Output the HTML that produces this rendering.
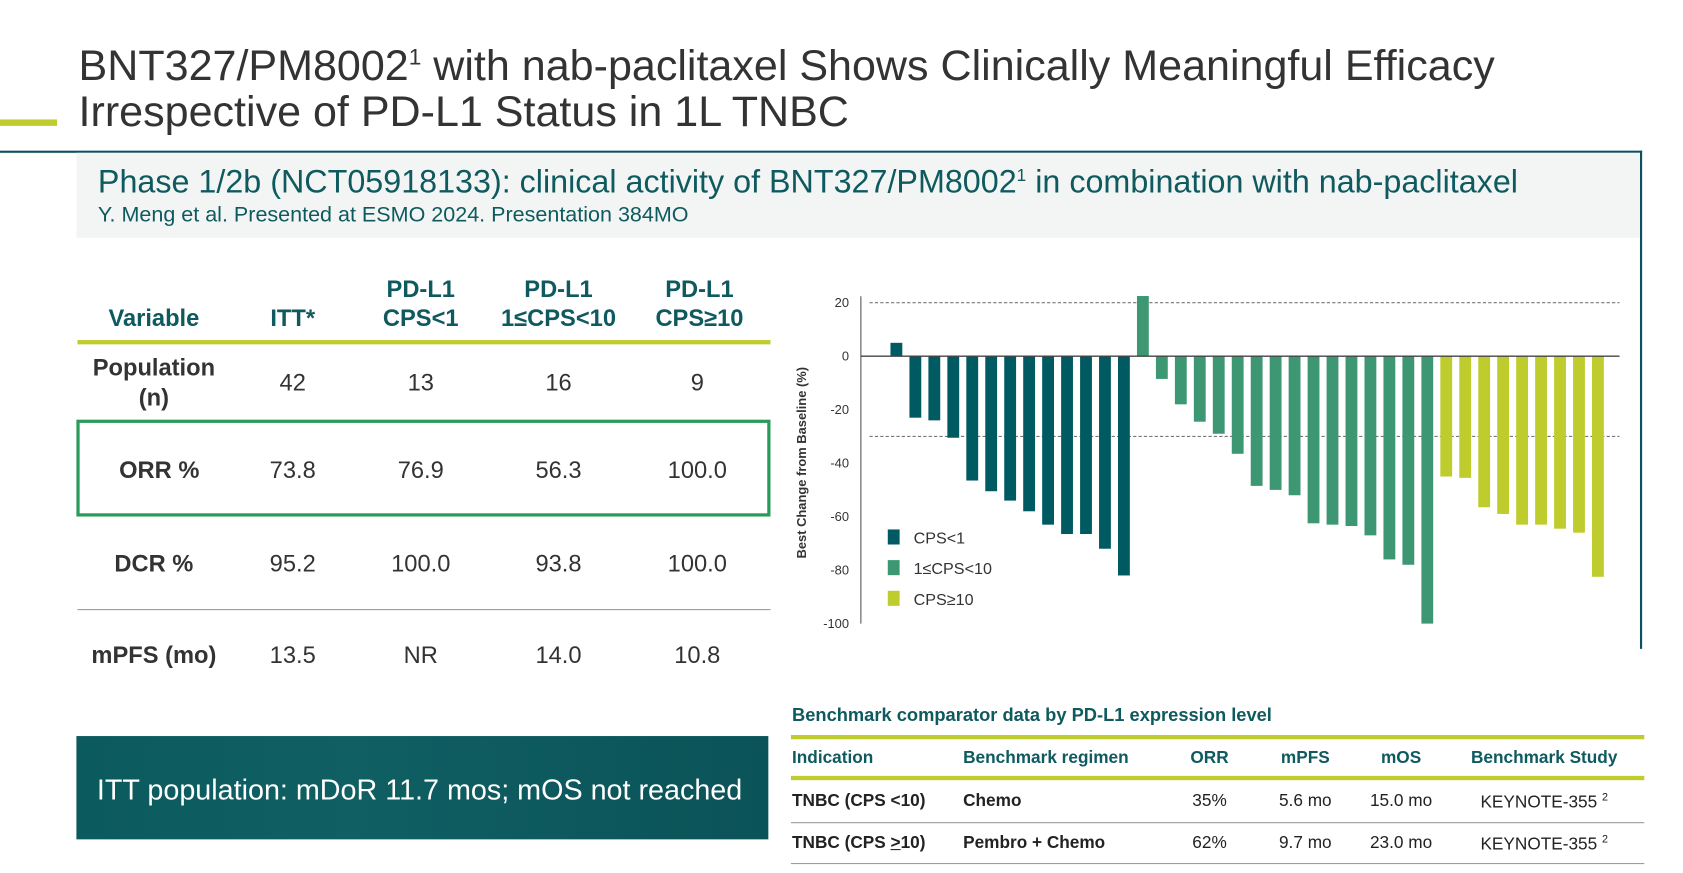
<!DOCTYPE html>
<html><head><meta charset="utf-8"><style>
html,body{margin:0;padding:0;background:#fff;overflow:hidden}
#wrap{position:absolute;left:0;top:0;width:1564px;height:811px;transform:scale(1.0761);transform-origin:0 0;font-family:"Liberation Sans",sans-serif}
.a{position:absolute;white-space:nowrap}
.tc{text-align:center;transform:translateX(-50%)}
.h{color:#0e5a5f;font-weight:bold;font-size:22px;line-height:27px}
.c{font-size:22px;color:#333}
.b{font-size:16px;color:#222}
.bh{font-size:16px;color:#0e5a5f;font-weight:bold}
</style></head><body><div id="wrap">
<div class="a" style="left:73px;top:32px;font-size:40px;line-height:43px;color:#333">BNT327/PM8002<sup style="font-size:21px">1</sup> with nab-paclitaxel Shows Clinically Meaningful Efficacy<br>Irrespective of PD-L1 Status in 1L TNBC</div>
<div class="a" style="left:0;top:111px;width:53px;height:6px;background:#bfcc2e"></div>
<div class="a" style="left:0;top:140px;width:1526px;height:2px;background:#0d5060"></div>
<div class="a" style="left:1524px;top:140px;width:2px;height:463px;background:#0d5060"></div>
<div class="a" style="left:71px;top:142px;width:1453px;height:79px;background:#f3f5f4"></div>
<div class="a" style="left:91px;top:153px;font-size:30px;color:#0e5a5f">Phase 1/2b (NCT05918133): clinical activity of BNT327/PM8002<sup style="font-size:16px">1</sup> in combination with nab-paclitaxel</div>
<div class="a" style="left:91px;top:189px;font-size:20px;color:#0e5a5f">Y. Meng et al. Presented at ESMO 2024. Presentation 384MO</div>

<div class="a h tc" style="left:143px;top:282px">Variable</div>
<div class="a h tc" style="left:272px;top:282px">ITT*</div>
<div class="a h tc" style="left:391px;top:255px">PD-L1<br>CPS&lt;1</div>
<div class="a h tc" style="left:519px;top:255px">PD-L1<br>1≤CPS&lt;10</div>
<div class="a h tc" style="left:650px;top:255px">PD-L1<br>CPS≥10</div>
<div class="a" style="left:72px;top:316px;width:644px;height:4px;background:#bfcc2e"></div>
<div class="a c tc" style="left:143px;top:328px;font-weight:bold;line-height:28px">Population<br>(n)</div>
<div class="a c tc" style="left:272px;top:343px">42</div>
<div class="a c tc" style="left:391px;top:343px">13</div>
<div class="a c tc" style="left:519px;top:343px">16</div>
<div class="a c tc" style="left:648px;top:343px">9</div>
<div class="a" style="left:71px;top:390px;width:639px;height:84px;border:3px solid #2a9a5a"></div>
<div class="a c tc" style="left:148px;top:424px;font-weight:bold">ORR %</div>
<div class="a c tc" style="left:272px;top:424px">73.8</div>
<div class="a c tc" style="left:391px;top:424px">76.9</div>
<div class="a c tc" style="left:519px;top:424px">56.3</div>
<div class="a c tc" style="left:648px;top:424px">100.0</div>
<div class="a c tc" style="left:143px;top:511px;font-weight:bold">DCR %</div>
<div class="a c tc" style="left:272px;top:511px">95.2</div>
<div class="a c tc" style="left:391px;top:511px">100.0</div>
<div class="a c tc" style="left:519px;top:511px">93.8</div>
<div class="a c tc" style="left:648px;top:511px">100.0</div>
<div class="a" style="left:72px;top:566px;width:644px;height:1px;background:#999"></div>
<div class="a c tc" style="left:143px;top:596px;font-weight:bold">mPFS (mo)</div>
<div class="a c tc" style="left:272px;top:596px">13.5</div>
<div class="a c tc" style="left:391px;top:596px">NR</div>
<div class="a c tc" style="left:519px;top:596px">14.0</div>
<div class="a c tc" style="left:648px;top:596px">10.8</div>

<div class="a" style="left:71px;top:684px;width:643px;height:96px;background:linear-gradient(90deg,#0b5a5e,#0f5f63 40%,#0b5358)"></div>
<div class="a" style="left:90px;top:719px;font-size:26.7px;color:#fff">ITT population: mDoR 11.7 mos; mOS not reached</div>

<svg class="a" style="left:0;top:0" width="1564" height="811" id="chart"></svg>

<div class="a" style="left:736px;top:655px;font-size:17px;font-weight:bold;color:#0e5a5f">Benchmark comparator data by PD-L1 expression level</div>
<div class="a" style="left:735px;top:683px;width:793px;height:4px;background:#bfcc2e"></div>
<div class="a bh" style="left:736px;top:696px">Indication</div>
<div class="a bh" style="left:895px;top:696px">Benchmark regimen</div>
<div class="a bh tc" style="left:1124px;top:696px">ORR</div>
<div class="a bh tc" style="left:1213px;top:696px">mPFS</div>
<div class="a bh tc" style="left:1302px;top:696px">mOS</div>
<div class="a bh tc" style="left:1435px;top:696px">Benchmark Study</div>
<div class="a" style="left:735px;top:721px;width:793px;height:4px;background:#bfcc2e"></div>
<div class="a b" style="left:736px;top:736px;font-weight:bold">TNBC (CPS &lt;10)</div>
<div class="a b" style="left:895px;top:736px;font-weight:bold">Chemo</div>
<div class="a b tc" style="left:1124px;top:736px">35%</div>
<div class="a b tc" style="left:1213px;top:736px">5.6 mo</div>
<div class="a b tc" style="left:1302px;top:736px">15.0 mo</div>
<div class="a b tc" style="left:1435px;top:736px">KEYNOTE-355 <sup style="font-size:10px">2</sup></div>
<div class="a" style="left:735px;top:764px;width:793px;height:1px;background:#999"></div>
<div class="a b" style="left:736px;top:775px;font-weight:bold">TNBC (CPS <u>&gt;</u>10)</div>
<div class="a b" style="left:895px;top:775px;font-weight:bold">Pembro + Chemo</div>
<div class="a b tc" style="left:1124px;top:775px">62%</div>
<div class="a b tc" style="left:1213px;top:775px">9.7 mo</div>
<div class="a b tc" style="left:1302px;top:775px">23.0 mo</div>
<div class="a b tc" style="left:1435px;top:775px">KEYNOTE-355 <sup style="font-size:10px">2</sup></div>
<div class="a" style="left:735px;top:802px;width:793px;height:1px;background:#999"></div>
</div>
<script>
const groups = ["CPS<1","1≤CPS<10","CPS≥10"];
const groupColors = ["#005a62","#3d9773","#bfcc2e"];
const cpsLt1 = [5,-23,-24,-30.5,-46.5,-50.5,-54,-58,-63,-66.5,-66.5,-72,-82];
const cps1to10 = [22.5,-8.5,-18,-24.5,-29,-36.5,-48.5,-50,-52,-62.5,-63,-63.5,-67,-76,-78,-100];
const cpsGe10 = [-45,-45.5,-56.5,-59,-63,-63,-64.5,-66,-82.5];
const yTicks = [20,0,-20,-40,-60,-80,-100];
const refLines = [20,-30];
const NS="http://www.w3.org/2000/svg";
const svg=document.getElementById('chart');
const y0=331, pxPerUnit=2.485;
function y(v){return y0 - v*pxPerUnit;}
const xStart=833, step=17.62, bw=11;
function x(i){return xStart + i*step;}
function mk(t,a){const e=document.createElementNS(NS,t);for(const k in a)e.setAttribute(k,a[k]);svg.appendChild(e);return e;}
let ax=mk('line',{x1:800,y1:y(20)-6,x2:800,y2:y(-100),stroke:'#555','stroke-width':1});


yTicks.forEach(t=>{const e=mk('text',{x:789,y:y(t)+4,'text-anchor':'end','font-size':12,fill:'#333','font-family':'Liberation Sans, sans-serif'});e.textContent=t;

});
refLines.forEach(r=>{const e=mk('line',{x1:808,y1:y(r),x2:1505,y2:y(r),stroke:'#777','stroke-width':1,'stroke-dasharray':'3,2'});

});
const yt=mk('text',{x:0,y:0,transform:'translate(749,430) rotate(-90)','text-anchor':'middle','font-size':12,'font-weight':'bold',fill:'#333','font-family':'Liberation Sans, sans-serif'});
yt.textContent='Best Change from Baseline (%)';


let idx=0;
[cpsLt1,cps1to10,cpsGe10].forEach((arr,g)=>{arr.forEach(v=>{const cx=x(idx);const top=Math.min(y(v),y0),h=Math.abs(y(v)-y0);
const r=mk('rect',{x:cx-bw/2,y:top,width:bw,height:h,fill:groupColors[g]});

idx++;});});
const zl=mk('line',{x1:800,y1:y0,x2:1505,y2:y0,stroke:'#444','stroke-width':1.3});


groups.forEach((gname,g)=>{const ly=492+g*28.5;
const r=mk('rect',{x:825,y:ly,width:11,height:14,fill:groupColors[g]});


const t=mk('text',{x:849,y:ly+13,'font-size':15,fill:'#333','font-family':'Liberation Sans, sans-serif'});t.textContent=gname;

});
</script>
</body></html>
